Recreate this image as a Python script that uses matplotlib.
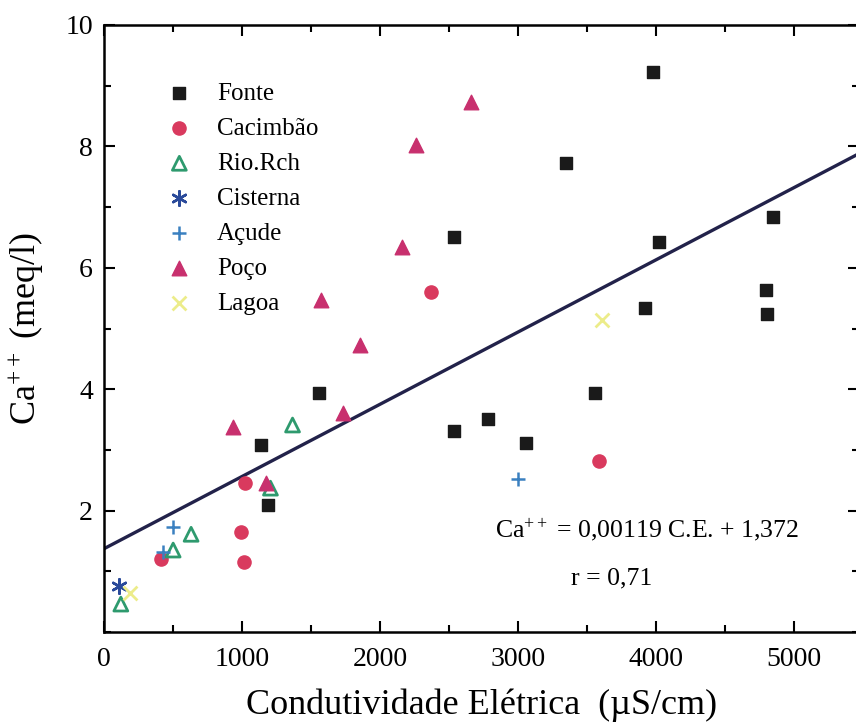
import numpy as np
import matplotlib
matplotlib.use("Agg")
import matplotlib.pyplot as plt
from matplotlib.ticker import MultipleLocator

plt.rcParams['font.family'] = ['Liberation Serif', 'DejaVu Serif']
plt.rcParams['mathtext.fontset'] = 'custom'
plt.rcParams['mathtext.rm'] = 'Liberation Serif'
plt.rcParams['mathtext.it'] = 'Liberation Serif:italic'

# condutividade eletrica (uS/cm) e Ca++ (meq/l) por tipo de fonte
fonte_ce = [3975, 3350, 2536, 4020, 4847, 3917, 4797, 4804, 1555, 1141, 1185, 2536, 2783, 3060, 3554]
fonte_ca = [9.23, 7.73, 6.51, 6.43, 6.84, 5.34, 5.63, 5.24, 3.94, 3.08, 2.09, 3.31, 3.51, 3.11, 3.94]

cacimbao_ce = [2369, 1025, 996, 1017, 415, 3583]
cacimbao_ca = [5.60, 2.45, 1.65, 1.15, 1.20, 2.82]

rio_ce = [1366, 1206, 631, 501, 122]
rio_ca = [3.41, 2.37, 1.61, 1.35, 0.46]

cisterna_ce = [109]
cisterna_ca = [0.75]

acude_ce = [501, 429, 3001]
acude_ca = [1.73, 1.32, 2.52]

poco_ce = [2660, 2260, 2158, 1570, 1853, 938, 1730, 1177]
poco_ca = [8.73, 8.02, 6.35, 5.47, 4.73, 3.38, 3.61, 2.45]

lagoa_ce = [188, 3605]
lagoa_ca = [0.64, 5.14]

# reta de regressao
slope = 0.00119
intercept = 1.372

fig = plt.figure(figsize=(8.56, 7.26), dpi=100)
ax = fig.add_axes([104/856, 1 - 632/726, (859-104)/856, (632-25)/726])

ax.scatter(fonte_ce, fonte_ca, marker='s', s=70, color='#1a1a1a', label='Fonte', zorder=3)
ax.scatter(cacimbao_ce, cacimbao_ca, marker='o', s=90, color='#d93a5e', label='Cacimbão', zorder=3)
ax.scatter(rio_ce, rio_ca, marker='^', s=100, facecolors='none', edgecolors='#2e9a6e',
           linewidths=2, label='Rio.Rch', zorder=3)
ax.scatter(cisterna_ce, cisterna_ca, marker=(6, 2, 0), s=110, color='#2a4a9a', linewidths=1.8,
           label='Cisterna', zorder=3)
ax.scatter(acude_ce, acude_ca, marker='+', s=110, color='#3a80c0', linewidths=1.8,
           label='Açude', zorder=3)
ax.scatter(poco_ce, poco_ca, marker='^', s=110, color='#c8306e', label='Poço', zorder=3)
ax.scatter(lagoa_ce, lagoa_ca, marker='x', s=100, color='#ecec8a', linewidths=2,
           label='Lagoa', zorder=3)

xs = np.array([0, 5470])
ax.plot(xs, slope * xs + intercept, color='#22224a', lw=2.4, zorder=2)

ax.set_xlim(0, 5470)
ax.set_ylim(0, 10)
ax.xaxis.set_major_locator(MultipleLocator(1000))
ax.xaxis.set_minor_locator(MultipleLocator(500))
ax.yaxis.set_minor_locator(MultipleLocator(1))
ax.set_yticks([2, 4, 6, 8, 10])
ax.set_yticklabels(['2', '4', '6', '8', '10'])
ax.tick_params(which='both', direction='in', top=True, right=True, labelsize=20, width=1.5)
ax.tick_params(which='major', length=8)
ax.tick_params(axis='x', which='major', pad=11)
ax.tick_params(axis='y', which='major', pad=8)
ax.tick_params(which='minor', length=5)
for sp in ax.spines.values():
    sp.set_linewidth(1.8)

ax.set_xlabel('Condutividade Elétrica  (µS/cm)', fontsize=26, labelpad=12)
ax.set_ylabel('Ca$^{++}$ (meq/l)', fontsize=26, labelpad=14)

ax.text(3930, 1.68, 'Ca$^{++}$ = 0,00119 C.E. + 1,372', fontsize=18.5, ha='center', va='center')
ax.text(3680, 0.89, 'r = 0,71', fontsize=18.5, ha='center', va='center')

ax.legend(loc='upper left', bbox_to_anchor=(0.07, 0.922), frameon=False, fontsize=18,
          scatterpoints=1, handlelength=1.0, handletextpad=1.0, labelspacing=0.5,
          borderaxespad=0)

fig.savefig('out.png', dpi=100)
